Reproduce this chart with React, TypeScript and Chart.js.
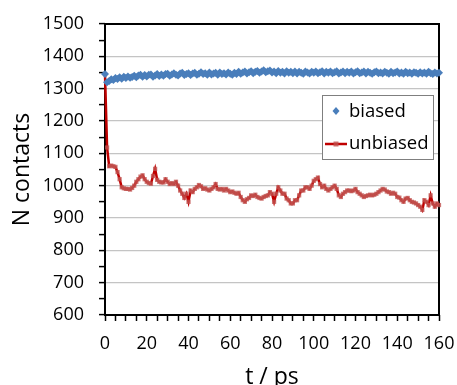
import React, { useEffect, useRef } from "react";
import { Chart, registerables } from "chart.js";

Chart.register(...registerables);

// time step between samples (ps)
const timeStepPs = 1;

const seriesNames = ["biased", "unbiased"];

const xTickLabels = [0, 20, 40, 60, 80, 100, 120, 140, 160];
const yTickLabels = [600, 700, 800, 900, 1000, 1100, 1200, 1300, 1400, 1500];

const biased = [
  1345, 1320, 1324, 1329, 1327, 1333, 1330, 1335, 1331, 1337,
  1333, 1338, 1334, 1336, 1340, 1335, 1341, 1343, 1337, 1342,
  1338, 1343, 1344, 1337, 1341, 1345, 1339, 1344, 1340, 1345,
  1346, 1340, 1344, 1348, 1343, 1341, 1347, 1349, 1342, 1345,
  1348, 1342, 1347, 1349, 1343, 1346, 1351, 1345, 1348, 1343,
  1350, 1344, 1347, 1349, 1343, 1350, 1345, 1348, 1344, 1350,
  1346, 1343, 1349, 1345, 1352, 1346, 1350, 1353, 1347, 1351,
  1354, 1348, 1352, 1355, 1349, 1353, 1357, 1351, 1354, 1356,
  1350, 1353, 1348, 1355, 1349, 1352, 1347, 1354, 1349, 1352,
  1348, 1353, 1347, 1352, 1349, 1346, 1353, 1350, 1347, 1352,
  1349, 1353, 1348, 1351, 1354, 1347, 1352, 1349, 1353, 1348,
  1351, 1354, 1347, 1350, 1353, 1348, 1352, 1349, 1353, 1347,
  1351, 1354, 1348, 1350, 1353, 1347, 1352, 1349, 1346, 1351,
  1353, 1348, 1350, 1347, 1352, 1349, 1346, 1352, 1348, 1350,
  1353, 1347, 1350, 1346, 1352, 1348, 1350, 1346, 1351, 1349,
  1346, 1351, 1347, 1350, 1346, 1352, 1348, 1345, 1350, 1347,
  1349,
];

const unbiased = [
  1345, 1118, 1060, 1062, 1060, 1058, 1042, 1020, 995, 992,
  990, 990, 988, 993, 1000, 1012, 1020, 1028, 1032, 1020,
  1012, 1008, 1006, 1030, 1052, 1018, 1012, 1010, 1010, 1020,
  1012, 1005, 1008, 1005, 1012, 1000, 985, 975, 962, 975,
  950, 985, 980, 990, 995, 1002, 998, 990, 992, 988,
  985, 990, 995, 1005, 990, 988, 990, 985, 990, 985,
  980, 982, 978, 975, 978, 965, 955, 950, 958, 962,
  970, 968, 972, 965, 962, 960, 965, 968, 970, 980,
  975, 950, 975, 995, 985, 975, 975, 960, 955, 945,
  945, 955, 955, 970, 985, 985, 995, 995, 990, 1000,
  1015, 1020, 1025, 1005, 995, 1000, 990, 985, 990, 995,
  1000, 990, 970, 965, 975, 980, 985, 985, 983, 985,
  990, 980, 975, 970, 965, 968, 970, 972, 970, 972,
  975, 980, 985, 990, 988, 982, 980, 975, 978, 975,
  965, 963, 955, 950, 960, 962, 955, 950, 948, 945,
  940, 935, 925, 955, 950, 940, 970, 945, 935, 945,
  940,
];

const FONT = "'Open Sans', 'Liberation Sans', sans-serif";

const framePlugin = {
  id: "frameAndLegend",
  beforeDatasetsDraw(chart: any) {
    const { ctx, chartArea } = chart;
    ctx.save();
    ctx.strokeStyle = "#000";
    ctx.lineWidth = 2;
    ctx.strokeRect(chartArea.left, chartArea.top, chartArea.right - chartArea.left, chartArea.bottom - chartArea.top);
    ctx.restore();
  },
  afterDraw(chart: any) {
    const { ctx, chartArea } = chart;
    const ds = chart.data.datasets;
    const bx = chartArea.right - 117;
    const by = chartArea.top + 71;
    const bw = 111;
    const bh = 64;
    ctx.save();
    ctx.fillStyle = "#fff";
    ctx.fillRect(bx, by, bw, bh);
    ctx.strokeStyle = "#7f7f7f";
    ctx.lineWidth = 1;
    ctx.strokeRect(bx + 0.5, by + 0.5, bw, bh);

    // biased item: diamond
    const mx = bx + 14;
    const y1 = by + 16;
    ctx.fillStyle = ds[0].backgroundColor;
    ctx.beginPath();
    ctx.moveTo(mx, y1 - 4);
    ctx.lineTo(mx + 3.5, y1);
    ctx.lineTo(mx, y1 + 4);
    ctx.lineTo(mx - 3.5, y1);
    ctx.closePath();
    ctx.fill();

    // unbiased item: line + square
    const y2 = by + 49;
    ctx.strokeStyle = ds[1].borderColor;
    ctx.lineWidth = 2.5;
    ctx.beginPath();
    ctx.moveTo(bx + 3, y2);
    ctx.lineTo(bx + 25, y2);
    ctx.stroke();
    ctx.fillStyle = ds[1].pointBackgroundColor;
    ctx.fillRect(mx - 2.5, y2 - 2.5, 5, 5);

    ctx.fillStyle = "#000";
    ctx.font = `18.5px ${FONT}`;
    ctx.textBaseline = "middle";
    ctx.textAlign = "left";
    ctx.fillText(ds[0].label, bx + 27, y1 + 1);
    ctx.fillText(ds[1].label, bx + 27, y2);
    ctx.restore();
  },
};

export default function App() {
  const canvasRef = useRef<HTMLCanvasElement | null>(null);

  useEffect(() => {
    if (!canvasRef.current) return;
    const chart = new Chart(canvasRef.current, {
      type: "line",
      data: {
        datasets: [
          {
            label: seriesNames[0],
            data: biased.map((v, i) => ({ x: i * timeStepPs, y: v })),
            showLine: false,
            pointStyle: "rectRot",
            pointRadius: 4,
            backgroundColor: "#4A7EBB",
            pointBackgroundColor: "#4A7EBB",
            pointBorderWidth: 0,
            borderColor: "#4A7EBB",
            clip: false as any,
          },
          {
            label: seriesNames[1],
            data: unbiased.map((v, i) => ({ x: i * timeStepPs, y: v })),
            showLine: true,
            borderColor: "#C00000",
            borderWidth: 2.5,
            tension: 0,
            pointStyle: "rect",
            pointRadius: 3,
            pointBackgroundColor: "rgba(192,80,77,0.8)",
            backgroundColor: "rgba(192,80,77,0.8)",
            pointBorderWidth: 0,
            clip: false as any,
          },
        ],
      },
      options: {
        responsive: false,
        animation: false,
        events: [],
        layout: { autoPadding: false, padding: { top: 24, right: 18, left: 0, bottom: -6 } },
        plugins: {
          legend: { display: false },
          tooltip: { enabled: false },
        },
        scales: {
          x: {
            type: "linear",
            min: 0,
            max: 160,
            afterFit: (s: any) => {
              s.height = 76;
              s.paddingLeft = 0;
              s.paddingRight = 0;
            },
            border: { display: false },
            grid: {
              drawOnChartArea: false,
              drawTicks: true,
              tickLength: 6,
              tickColor: "#000",
              tickWidth: 1.5,
            },
            ticks: {
              stepSize: 5,
              autoSkip: false,
              maxRotation: 0,
              padding: 12,
              color: "#000",
              font: { family: FONT, size: 18 },
              callback: (v: any) => (xTickLabels.includes(Number(v)) ? String(v) : ""),
            },
            title: {
              display: true,
              text: "t / ps",
              color: "#000",
              font: { family: FONT, size: 23 },
              padding: { top: 0, bottom: 0 },
            },
          },
          y: {
            type: "linear",
            min: 600,
            max: 1500,
            afterFit: (s: any) => {
              s.width = 105;
              s.paddingTop = 0;
              s.paddingBottom = 0;
            },
            border: { display: false },
            grid: {
              color: (c: any) => {
                const v = c.tick ? c.tick.value : NaN;
                if (v === 600 || v === 1500) return "rgba(0,0,0,0)";
                return yTickLabels.includes(v) ? "#C4C4C4" : "rgba(0,0,0,0)";
              },
              lineWidth: 1.2,
              drawTicks: true,
              tickLength: 6,
              tickColor: "#000",
              tickWidth: 1.5,
            },
            ticks: {
              stepSize: 50,
              autoSkip: false,
              padding: 15,
              color: "#000",
              font: { family: FONT, size: 18 },
              callback: (v: any) => (yTickLabels.includes(Number(v)) ? String(v) : ""),
            },
            title: {
              display: true,
              text: "N contacts",
              color: "#000",
              font: { family: FONT, size: 23 },
              padding: { top: 9, bottom: 9 },
            },
          },
        },
      },
      plugins: [framePlugin],
    });
    return () => chart.destroy();
  }, []);

  return (
    <div style={{ position: "absolute", left: 0, top: 0, width: 457, height: 385, background: "#fff" }}>
      <canvas ref={canvasRef} width={457} height={385} style={{ display: "block" }} />
    </div>
  );
}
